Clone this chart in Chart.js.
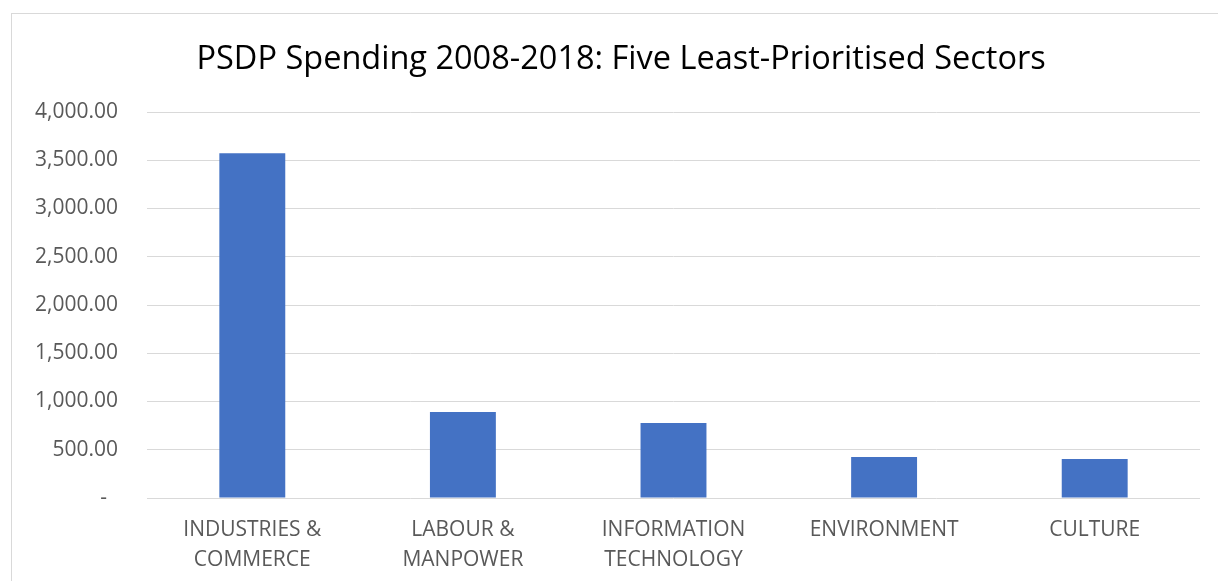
<!DOCTYPE html>
<html>
<head>
<meta charset="utf-8">
<script src="https://cdn.jsdelivr.net/npm/chart.js@4/dist/chart.umd.min.js"></script>
<style>
  html, body { margin: 0; padding: 0; background: #fff; overflow: hidden; }
  #wrap { position: relative; width: 1218px; height: 581px; }
  #frame { position: absolute; left: 11px; top: 13px; width: 1300px; height: 700px; border: 1px solid #d9d9d9; }
  canvas { position: absolute; left: 0; top: 0; }
</style>
</head>
<body>
<div id="wrap">
  <div id="frame"></div>
  <canvas id="chart" width="1218" height="581"></canvas>
</div>
<script>
// sectors with the lowest PSDP allocation, 2008-2018
const sectors = [
  ['INDUSTRIES &', 'COMMERCE'],
  ['LABOUR &', 'MANPOWER'],
  ['INFORMATION', 'TECHNOLOGY'],
  ['ENVIRONMENT'],
  ['CULTURE']
];
const spending = [3572, 892, 778, 425, 404];
const yTicks = [0, 500, 1000, 1500, 2000, 2500, 3000, 3500, 4000];

const font = "'Open Sans', 'Noto Sans', sans-serif";

// accounting style: zero shows as a dash
function fmt(v) {
  if (v === 0) return '-  ';
  return v.toLocaleString('en-US', { minimumFractionDigits: 2, maximumFractionDigits: 2 });
}

new Chart(document.getElementById('chart'), {
  type: 'bar',
  data: {
    labels: sectors,
    datasets: [{
      data: spending,
      backgroundColor: '#4472c4',
      borderWidth: 0,
      categoryPercentage: 1,
      barPercentage: 0.313
    }]
  },
  options: {
    responsive: false,
    animation: false,
    layout: { padding: { left: 0, right: 18, top: 0, bottom: 0 } },
    plugins: {
      legend: { display: false },
      tooltip: { enabled: false },
      title: {
        display: true,
        // leading spaces nudge the centred title right of the axis block
        text: '     PSDP Spending 2008-2018: Five Least-Prioritised Sectors',
        color: '#000',
        font: { family: font, size: 32.5, weight: 'normal', lineHeight: 1.2 },
        padding: { top: 40.5, bottom: 32.5 }
      }
    },
    scales: {
      x: {
        afterFit: s => { s.height = 83; },
        grid: { display: false, drawTicks: false },
        border: { display: false },
        ticks: {
          color: '#595959',
          font: { family: font, size: 21, lineHeight: 1.42 },
          padding: 17,
          maxRotation: 0,
          autoSkip: false
        }
      },
      y: {
        min: 0,
        max: 4000,
        afterBuildTicks: s => { s.ticks = yTicks.map(v => ({ value: v })); },
        afterFit: s => { s.width = 147; },
        grid: { color: '#d9d9d9', lineWidth: 1, drawTicks: false },
        border: { display: false },
        ticks: {
          color: '#595959',
          font: { family: font, size: 21 },
          padding: 29,
          callback: v => fmt(v)
        }
      }
    }
  }
});
</script>
</body>
</html>
